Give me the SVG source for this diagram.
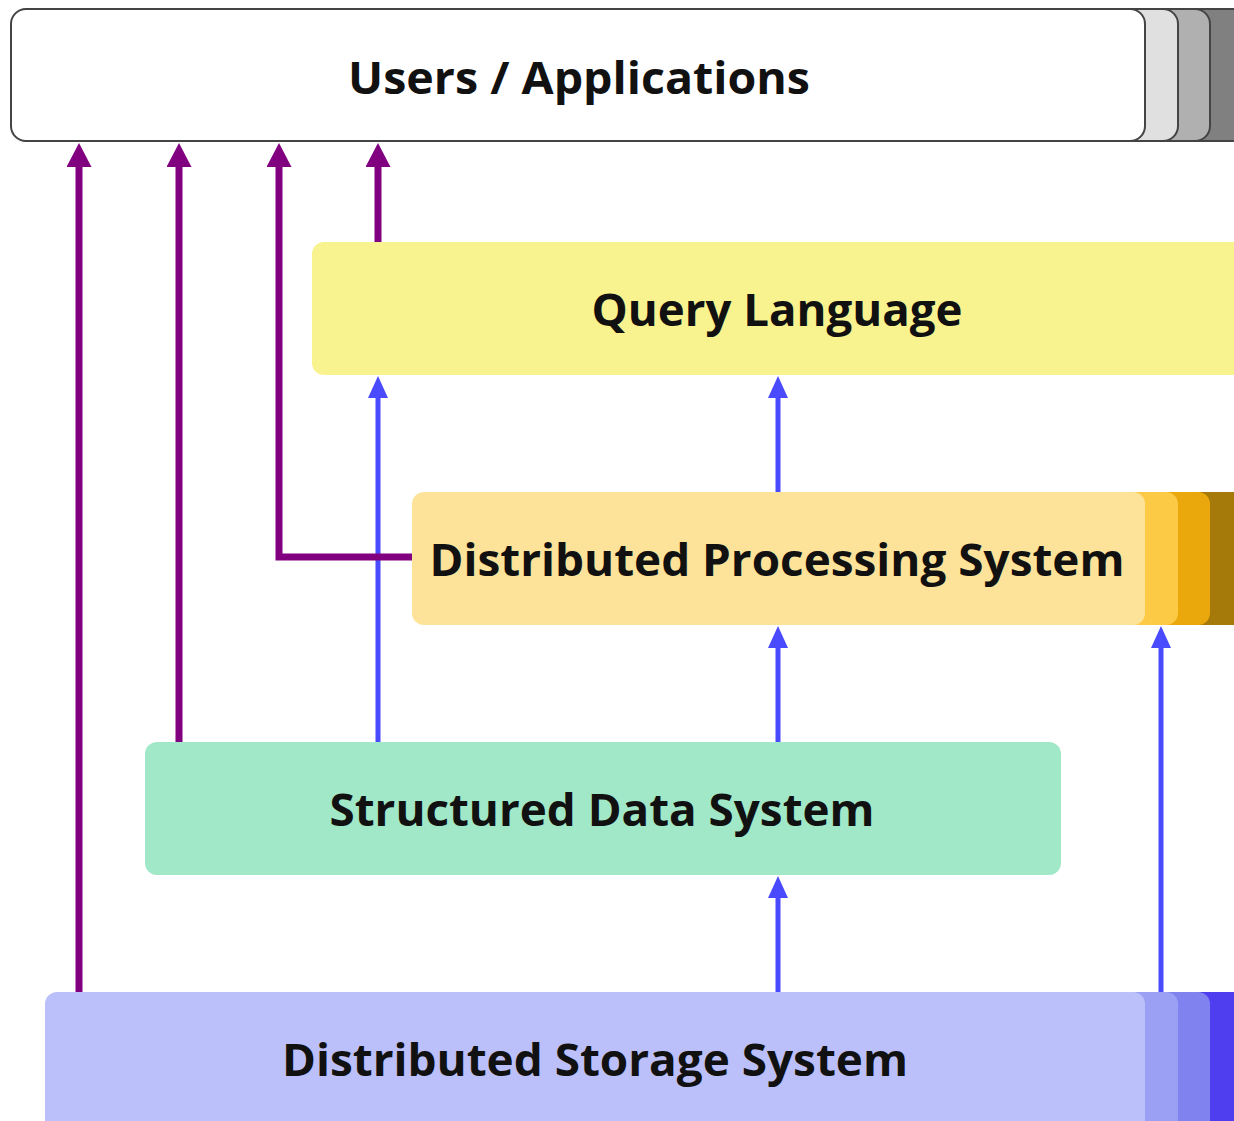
<svg xmlns="http://www.w3.org/2000/svg" width="1234" height="1121" viewBox="0 0 1234 1121">
<defs>
<style>
.lbl{font-family:"Open Sans","Liberation Sans",sans-serif;font-weight:bold;font-size:44px;fill:#111;text-anchor:middle}
.gray{stroke:#444;stroke-width:2}
.p{fill:none;stroke:#800080;stroke-width:7;marker-end:url(#hp)}
.b{fill:none;stroke:#4a4aff;stroke-width:5;marker-end:url(#hb)}
</style>
<marker id="hp" markerUnits="userSpaceOnUse" markerWidth="24" markerHeight="25" refX="0" refY="12.5" orient="auto" viewBox="0 0 24 25"><path d="M0,0 L24,12.5 L0,25 z" fill="#800080"/></marker>
<marker id="hb" markerUnits="userSpaceOnUse" markerWidth="22" markerHeight="20" refX="0" refY="10" orient="auto" viewBox="0 0 22 20"><path d="M0,0 L22,10 L0,20 z" fill="#4a4aff"/></marker>
</defs>
<rect width="1234" height="1121" fill="#fff"/>

<g id="users">
<rect class="gray" x="1100" y="9" width="200" height="132" rx="15" fill="#808080"/>
<rect class="gray" x="1100" y="9" width="110" height="132" rx="15" fill="#b0b0b0"/>
<rect class="gray" x="1100" y="9" width="78" height="132" rx="15" fill="#e0e0e0"/>
<rect class="gray" x="11" y="9" width="1134" height="132" rx="15" fill="#fff"/>
<text class="lbl" x="579" y="94" textLength="462" lengthAdjust="spacingAndGlyphs">Users / Applications</text>
</g>

<g id="query">
<rect x="312" y="242" width="960" height="133" rx="12" fill="#f8f38e"/>
<text class="lbl" x="777" y="326" textLength="371" lengthAdjust="spacingAndGlyphs">Query Language</text>
</g>

<g id="processing">
<rect x="1100" y="492" width="200" height="133" rx="12" fill="#a67a0a"/>
<rect x="1100" y="492" width="110" height="133" rx="12" fill="#eaa80d"/>
<rect x="1100" y="492" width="78" height="133" rx="12" fill="#fdca45"/>
<rect x="412" y="492" width="733" height="133" rx="12" fill="#fde39a"/>
<text class="lbl" x="777" y="576" textLength="695" lengthAdjust="spacingAndGlyphs">Distributed Processing System</text>
</g>

<g id="structured">
<rect x="145" y="742" width="916" height="133" rx="12" fill="#a0e8c8"/>
<text class="lbl" x="602" y="826" textLength="545" lengthAdjust="spacingAndGlyphs">Structured Data System</text>
</g>

<g id="storage">
<rect x="1100" y="992" width="200" height="150" rx="12" fill="#4f3df0"/>
<rect x="1100" y="992" width="110" height="150" rx="12" fill="#7f82ef"/>
<rect x="1100" y="992" width="78" height="150" rx="12" fill="#9ca0f4"/>
<rect x="45" y="992" width="1100" height="150" rx="12" fill="#bcc0fa"/>
<text class="lbl" x="595" y="1076" textLength="626" lengthAdjust="spacingAndGlyphs">Distributed Storage System</text>
</g>

<g id="connectors">
<path class="b" d="M378,742 V398"/>
<path class="p" d="M79,992 V167"/>
<path class="p" d="M179,742 V167"/>
<path class="p" d="M412,557 H279 V167"/>
<path class="p" d="M378,242 V167"/>
<path class="b" d="M778,492 V398"/>
<path class="b" d="M778,742 V648"/>
<path class="b" d="M778,992 V898"/>
<path class="b" d="M1161,992 V648"/>
</g>
</svg>
